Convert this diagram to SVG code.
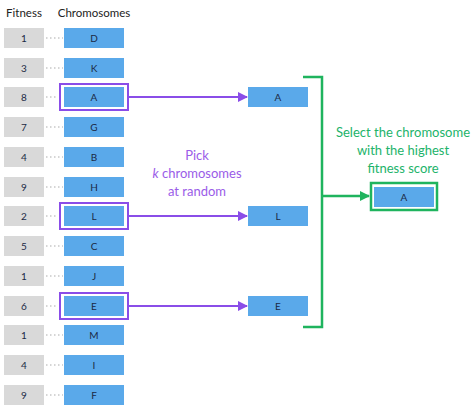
<svg xmlns="http://www.w3.org/2000/svg" width="474" height="412" viewBox="0 0 474 412">
<style>
.fit{fill:#d9d9d9}
.chr{fill:#5aa9ea}
.t{font-family:Lato,"Open Sans","Liberation Sans",sans-serif;font-size:10px;fill:#1b2a45;text-anchor:middle;dominant-baseline:central}
.h{font-family:Lato,"Open Sans","Liberation Sans",sans-serif;font-size:11.5px;fill:#222;text-anchor:middle}
.dot{stroke:#c8c8c8;stroke-width:1.5;stroke-dasharray:1.5 2.5;fill:none}
.hl{fill:none;stroke:#8a4de8;stroke-width:2}
.pa{stroke:#8a4de8;stroke-width:2;fill:none}
.ga{stroke:#1fb45e;stroke-width:2.5;fill:none}
.pt{font-family:Lato,"Open Sans","Liberation Sans",sans-serif;font-size:13px;fill:#9a5ce8;text-anchor:middle}
.gt{font-family:Lato,"Open Sans","Liberation Sans",sans-serif;font-size:13px;fill:#22b36a;text-anchor:middle}
</style>
<defs>
<marker id="mp" viewBox="0 0 10 10" refX="9" refY="5" markerWidth="5" markerHeight="5" orient="auto" markerUnits="strokeWidth"><path d="M0,0 L10,5 L0,10 z" fill="#8a4de8"/></marker>
<marker id="mg" viewBox="0 0 10 10" refX="9" refY="5" markerWidth="4" markerHeight="4" orient="auto" markerUnits="strokeWidth"><path d="M0,0 L10,5 L0,10 z" fill="#1fb45e"/></marker>
</defs>
<text class="h" x="24" y="17">Fitness</text>
<text class="h" x="94" y="17">Chromosomes</text>
<g id="rows">
<g id="row-D"><rect class="fit" x="4" y="28" width="40" height="20"/><text class="t" x="24" y="38">1</text><line class="dot" x1="46" y1="38" x2="63" y2="38"/><rect class="chr" x="64" y="28" width="60" height="20"/><text class="t" x="94" y="38">D</text></g>
<g id="row-K"><rect class="fit" x="4" y="58" width="40" height="20"/><text class="t" x="24" y="68">3</text><line class="dot" x1="46" y1="68" x2="63" y2="68"/><rect class="chr" x="64" y="58" width="60" height="20"/><text class="t" x="94" y="68">K</text></g>
<g id="row-A"><rect class="fit" x="4" y="87" width="40" height="20"/><text class="t" x="24" y="97">8</text><line class="dot" x1="46" y1="97" x2="58" y2="97"/><rect class="chr" x="64" y="87" width="60" height="20"/><text class="t" x="94" y="97">A</text><rect class="hl" x="60" y="84" width="68" height="26"/></g>
<g id="row-G"><rect class="fit" x="4" y="117" width="40" height="20"/><text class="t" x="24" y="127">7</text><line class="dot" x1="46" y1="127" x2="63" y2="127"/><rect class="chr" x="64" y="117" width="60" height="20"/><text class="t" x="94" y="127">G</text></g>
<g id="row-B"><rect class="fit" x="4" y="147" width="40" height="20"/><text class="t" x="24" y="157">4</text><line class="dot" x1="46" y1="157" x2="63" y2="157"/><rect class="chr" x="64" y="147" width="60" height="20"/><text class="t" x="94" y="157">B</text></g>
<g id="row-H"><rect class="fit" x="4" y="177" width="40" height="20"/><text class="t" x="24" y="187">9</text><line class="dot" x1="46" y1="187" x2="63" y2="187"/><rect class="chr" x="64" y="177" width="60" height="20"/><text class="t" x="94" y="187">H</text></g>
<g id="row-L"><rect class="fit" x="4" y="206" width="40" height="20"/><text class="t" x="24" y="216">2</text><line class="dot" x1="46" y1="216" x2="58" y2="216"/><rect class="chr" x="64" y="206" width="60" height="20"/><text class="t" x="94" y="216">L</text><rect class="hl" x="60" y="203" width="68" height="26"/></g>
<g id="row-C"><rect class="fit" x="4" y="236" width="40" height="20"/><text class="t" x="24" y="246">5</text><line class="dot" x1="46" y1="246" x2="63" y2="246"/><rect class="chr" x="64" y="236" width="60" height="20"/><text class="t" x="94" y="246">C</text></g>
<g id="row-J"><rect class="fit" x="4" y="266" width="40" height="20"/><text class="t" x="24" y="276">1</text><line class="dot" x1="46" y1="276" x2="63" y2="276"/><rect class="chr" x="64" y="266" width="60" height="20"/><text class="t" x="94" y="276">J</text></g>
<g id="row-E"><rect class="fit" x="4" y="296" width="40" height="20"/><text class="t" x="24" y="306">6</text><line class="dot" x1="46" y1="306" x2="58" y2="306"/><rect class="chr" x="64" y="296" width="60" height="20"/><text class="t" x="94" y="306">E</text><rect class="hl" x="60" y="293" width="68" height="26"/></g>
<g id="row-M"><rect class="fit" x="4" y="325" width="40" height="20"/><text class="t" x="24" y="335">1</text><line class="dot" x1="46" y1="335" x2="63" y2="335"/><rect class="chr" x="64" y="325" width="60" height="20"/><text class="t" x="94" y="335">M</text></g>
<g id="row-I"><rect class="fit" x="4" y="355" width="40" height="20"/><text class="t" x="24" y="365">4</text><line class="dot" x1="46" y1="365" x2="63" y2="365"/><rect class="chr" x="64" y="355" width="60" height="20"/><text class="t" x="94" y="365">I</text></g>
<g id="row-F"><rect class="fit" x="4" y="385" width="40" height="20"/><text class="t" x="24" y="395">9</text><line class="dot" x1="46" y1="395" x2="63" y2="395"/><rect class="chr" x="64" y="385" width="60" height="20"/><text class="t" x="94" y="395">F</text></g>
</g>
<g id="pick-A"><rect class="chr" x="248" y="87" width="60" height="20"/><text class="t" x="278" y="97">A</text></g>
<g id="pick-L"><rect class="chr" x="248" y="206" width="60" height="20"/><text class="t" x="278" y="216">L</text></g>
<g id="pick-E"><rect class="chr" x="248" y="296" width="60" height="20"/><text class="t" x="278" y="306">E</text></g>
<g id="winner"><rect x="371" y="183" width="66" height="27" fill="none" stroke="#1fb45e" stroke-width="2.5"/><rect class="chr" x="374" y="187" width="60" height="20"/><text class="t" x="404" y="197">A</text></g>
<g id="connectors">
<line class="pa" x1="129" y1="97" x2="247" y2="97" marker-end="url(#mp)"/>
<line class="pa" x1="129" y1="216" x2="247" y2="216" marker-end="url(#mp)"/>
<line class="pa" x1="129" y1="306" x2="247" y2="306" marker-end="url(#mp)"/>
<polyline class="ga" points="303,77 322,77 322,327 303,327"/>
<line class="ga" x1="322" y1="196" x2="369" y2="196" marker-end="url(#mg)"/>
</g>
<g id="labels">
<text class="pt" x="197" y="160">Pick</text>
<text class="pt" x="197" y="178"><tspan font-style="italic">k</tspan> chromosomes</text>
<text class="pt" x="197" y="196">at random</text>
<text class="gt" x="403" y="137">Select the chromosome</text>
<text class="gt" x="403" y="155">with the highest</text>
<text class="gt" x="403" y="173">fitness score</text>
</g>
</svg>
